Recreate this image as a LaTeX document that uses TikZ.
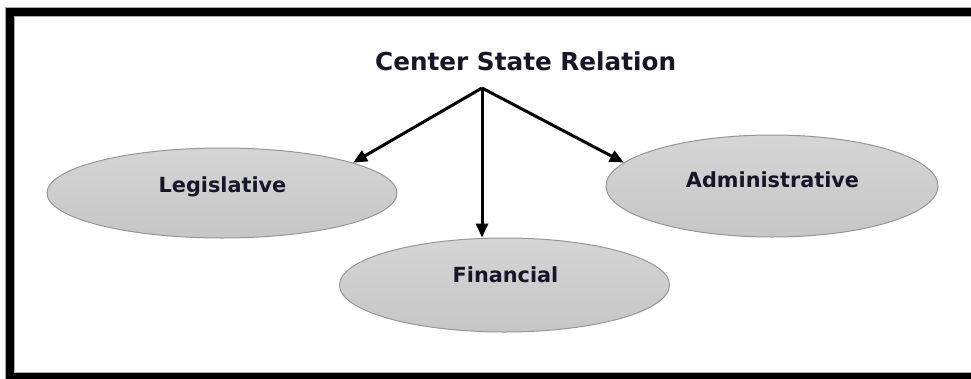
\documentclass[tikz,border=0pt]{standalone}
\usepackage{fontspec}
\setmainfont{DejaVu Sans}
\usetikzlibrary{shapes.geometric,arrows.meta}

\definecolor{labeltext}{RGB}{22,22,40}
\definecolor{ellipsetop}{RGB}{213,213,213}
\definecolor{ellipsebottom}{RGB}{198,198,198}
\definecolor{ellipseline}{RGB}{150,150,150}
\definecolor{framegray}{RGB}{170,170,170}

\tikzset{
  topic/.style={ellipse, draw=ellipseline, line width=1pt,
    top color=ellipsetop, bottom color=ellipsebottom, inner sep=0pt},
  heading/.style={inner sep=0pt, text=labeltext,
    font=\fontsize{24.7}{30}\selectfont\bfseries},
  topiclabel/.style={inner sep=0pt, text=labeltext,
    font=\fontsize{20.8}{25}\selectfont\bfseries},
  link/.style={line width=3pt, -{Triangle[length=14pt,width=12pt]}},
}

\begin{document}
\begin{tikzpicture}[x=1pt,y=-1pt]
  \clip (0,0) rectangle (971,378);
  \fill[white] (0,0) rectangle (971,378);

  % outer frame (right side runs off the page)
  \draw[framegray, line width=9.5pt] (10,12) rectangle (990,377);
  \draw[black, line width=8pt] (10,12) rectangle (990,377);

  % title and the point the arrows leave from
  \node[heading, anchor=base west] (title) at (375,70) {Center State Relation};
  \coordinate (apex) at (482,88);

  % the three branches
  \node[topic, minimum width=350pt, minimum height=90pt]  (leg) at (222,193) {};
  \node[topic, minimum width=330pt, minimum height=94pt]  (fin) at (504.5,285) {};
  \node[topic, minimum width=332pt, minimum height=102pt] (adm) at (772,186) {};

  \node[topiclabel, anchor=base] (legtext) at (222.5,192) {Legislative};
  \node[topiclabel, anchor=base] (fintext) at (505.5,282) {Financial};
  \node[topiclabel, anchor=base] (admtext) at (772.5,187) {Administrative};

  % connectors
  \draw[link] (apex) -- (leg.13);
  \draw[link] (apex) -- (apex |- fin.north);
  \draw[link] (apex) -- (adm.171);
\end{tikzpicture}
\end{document}
